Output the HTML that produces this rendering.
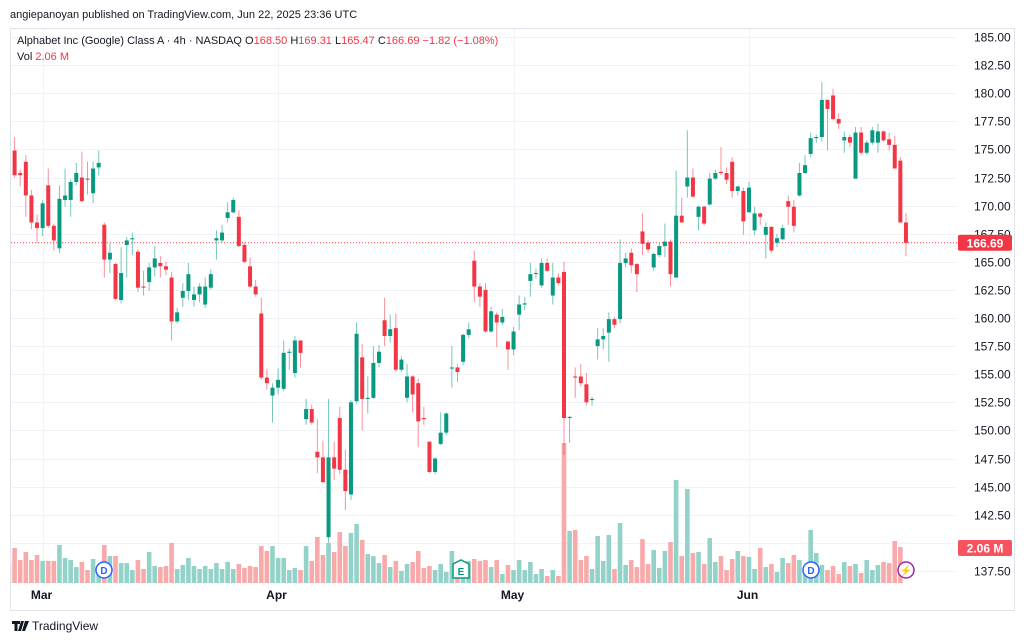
<!DOCTYPE html>
<html><head><meta charset="utf-8">
<style>
html,body{margin:0;padding:0;background:#fff;}
svg{display:block;font-family:"Liberation Sans",sans-serif;}
</style></head>
<body>
<svg id="chart" width="1024" height="642" viewBox="0 0 1024 642" xmlns="http://www.w3.org/2000/svg">
  <defs><clipPath id="plotclip"><rect x="11" y="29" width="945" height="556"/></clipPath></defs>
  <rect x="0" y="0" width="1024" height="642" fill="#ffffff"/>
  <text x="10" y="18" font-size="11" fill="#131722">angiepanoyan published on TradingView.com, Jun 22, 2025 23:36 UTC</text>
  <rect x="10.5" y="28.5" width="1004" height="582" fill="none" stroke="#e0e3eb"/>
  <g id="grid"></g>
  <g id="volumes" clip-path="url(#plotclip)"></g>
  <g id="candles" clip-path="url(#plotclip)"></g>
  <g id="yaxis"></g>
  <g id="xaxis"></g>
  <g font-size="11">
    <text x="17" y="44" fill="#131722">Alphabet Inc (Google) Class A · 4h · NASDAQ  <tspan fill="#131722">O</tspan><tspan fill="#f23645">168.50</tspan>  <tspan fill="#131722">H</tspan><tspan fill="#f23645">169.31</tspan>  <tspan fill="#131722">L</tspan><tspan fill="#f23645">165.47</tspan>  <tspan fill="#131722">C</tspan><tspan fill="#f23645">166.69</tspan>  <tspan fill="#f23645">−1.82 (−1.08%)</tspan></text>
    <text x="17" y="60" fill="#131722">Vol  <tspan fill="#f23645">2.06 M</tspan></text>
  </g>
  <g><circle cx="104" cy="570" r="8" fill="#fff" stroke="#2962ff" stroke-width="1.5"/><text x="104" y="574" font-size="10" font-weight="bold" fill="#2962ff" text-anchor="middle">D</text></g>
  <g><path d="M453 564 L461 560 L469 564 L469 578 L453 578 Z" fill="#fff" stroke="#089981" stroke-width="1.5"/><text x="461" y="575" font-size="10" font-weight="bold" fill="#089981" text-anchor="middle">E</text></g>
  <g><circle cx="811" cy="570" r="8" fill="#fff" stroke="#2962ff" stroke-width="1.5"/><text x="811" y="574" font-size="10" font-weight="bold" fill="#2962ff" text-anchor="middle">D</text></g>
  <g><circle cx="906" cy="570" r="8" fill="#fff" stroke="#9c27b0" stroke-width="1.5"/><text x="906" y="574" font-size="10" font-weight="bold" fill="#9c27b0" text-anchor="middle">⚡</text></g>
  <g>
    <path d="M12 621 h8 v3 h-2.5 v7 h-3 v-7 h-2.5 Z M21 621 h3 l-3 10 h-3 Z M25 621 h4 l-4 10 h-3 Z" fill="#131722"/>
    <text x="32" y="630" font-size="12" fill="#131722">TradingView</text>
  </g>
</svg>
<script>
var opens=[176.5,174.9,172.9,173.9,170.9,168.5,168.0,171.8,168.2,166.2,170.5,170.5,172.1,172.5,172.4,171.1,173.4,168.3,165.2,164.8,161.6,166.5,167.0,165.9,162.8,163.2,164.5,164.9,164.6,163.6,159.7,161.8,162.4,161.6,162.1,161.2,162.7,166.9,166.9,168.9,169.4,169.0,166.5,164.6,162.8,160.4,154.7,153.1,153.8,153.7,156.9,155.1,158.0,151.0,151.9,148.1,147.6,140.5,147.6,151.1,146.5,144.3,152.6,156.5,152.8,152.9,156.0,159.8,158.4,159.1,155.4,152.9,154.8,154.2,151.1,149.0,146.3,148.8,149.8,155.5,155.6,156.1,158.5,165.1,162.8,162.5,158.8,160.3,159.6,157.9,157.2,160.3,161.2,163.3,164.0,162.9,164.9,162.0,163.6,164.1,151.1,154.8,154.8,154.1,152.7,157.5,158.1,158.7,159.9,159.9,164.9,165.8,164.8,167.7,166.7,164.5,165.6,166.4,166.8,163.6,169.1,171.7,172.5,169.0,169.9,170.1,172.4,173.0,172.9,173.9,171.3,171.3,169.4,167.8,169.3,167.4,168.1,166.7,167.0,170.4,169.9,170.9,172.9,174.6,176.0,176.1,179.4,179.8,177.7,175.8,176.1,172.4,176.5,174.7,175.6,175.6,176.6,175.9,175.4,174.0,168.5];
var highs=[177.0,176.1,173.2,174.5,171.4,169.2,170.5,173.3,168.4,171.8,173.3,172.3,173.8,174.8,173.9,173.9,174.9,168.5,166.7,164.9,166.3,167.2,167.6,166.1,164.2,164.9,166.4,165.5,165.0,164.1,160.9,163.1,164.9,162.8,163.1,163.6,164.3,167.8,168.3,170.3,170.7,169.6,166.7,165.4,163.4,161.8,155.5,154.2,155.5,158.0,157.3,158.4,158.0,152.8,152.3,151.0,149.1,152.8,149.0,152.1,148.3,152.7,159.6,157.7,154.8,157.5,157.6,161.8,160.3,160.4,156.6,155.9,154.9,154.6,152.1,149.0,147.6,151.6,151.6,157.5,155.9,158.6,159.6,166.0,163.1,163.1,161.0,160.5,160.8,158.0,159.2,162.0,161.9,164.9,164.4,165.3,165.3,164.9,164.0,165.0,151.3,155.6,155.9,155.1,153.0,159.1,159.1,160.5,160.1,167.0,165.8,166.2,164.9,169.3,166.9,165.8,166.7,168.4,167.0,173.1,170.7,176.7,173.3,170.0,170.0,172.9,173.2,175.2,173.4,174.3,171.8,171.6,172.1,169.9,169.4,168.5,168.2,167.5,168.3,170.9,170.5,173.8,174.5,176.5,176.3,181.0,179.5,180.4,178.2,176.6,176.3,177.0,177.0,175.8,177.0,177.3,176.7,176.5,176.2,174.3,169.3];
var lows=[175.0,172.5,171.7,169.0,167.9,166.7,167.3,168.0,166.0,165.8,169.9,169.0,171.8,170.3,171.0,170.2,172.7,163.6,164.0,161.6,161.3,163.6,165.6,162.3,162.0,162.4,163.7,163.6,163.8,158.0,159.5,161.0,161.6,161.0,161.4,160.9,162.5,165.2,166.7,168.5,169.3,166.3,164.9,162.7,161.9,154.5,153.6,150.7,153.2,153.5,155.4,154.7,155.6,150.5,150.5,146.2,145.3,140.0,145.6,146.1,142.9,143.8,152.4,150.0,151.5,152.8,155.6,157.5,157.8,155.2,155.2,152.5,151.6,148.5,150.5,146.2,146.1,148.7,149.6,153.8,154.3,155.8,158.2,161.4,161.0,158.7,158.7,157.4,159.4,155.4,156.7,158.9,160.7,161.9,163.5,162.7,164.1,161.2,162.9,147.8,148.9,152.9,153.9,152.2,152.2,156.3,157.2,156.1,159.1,159.5,164.5,164.0,162.3,165.6,165.8,164.2,165.4,165.4,162.8,163.6,168.5,170.7,170.7,167.8,168.2,170.0,172.3,172.7,171.9,170.7,170.9,167.4,169.4,167.4,168.3,165.3,165.8,166.3,166.9,168.3,167.6,170.8,172.8,174.3,175.6,175.7,174.9,177.6,176.8,174.7,175.2,172.4,174.5,174.5,175.4,174.7,175.7,174.9,173.3,168.5,165.5];
var closes=[175.4,172.7,172.7,170.9,168.5,168.0,170.2,168.2,166.9,170.6,170.9,172.1,172.9,170.4,172.3,173.3,173.8,165.2,165.8,161.7,164.0,166.9,167.1,162.7,162.7,164.5,165.3,164.6,164.3,159.7,160.5,162.4,163.9,162.1,162.8,162.8,163.9,167.1,167.6,169.4,170.5,166.4,165.0,162.8,162.1,154.7,154.2,153.8,154.5,156.9,157.0,158.0,156.9,151.9,150.7,147.6,145.4,147.6,146.6,146.5,144.6,152.5,158.6,152.8,152.9,156.0,157.0,158.4,159.0,155.4,156.3,154.8,153.2,150.8,151.0,146.3,147.5,149.8,151.5,155.6,155.2,158.5,159.0,162.8,161.9,158.8,160.6,159.6,160.1,157.2,158.8,161.2,161.3,163.9,164.0,164.9,164.2,163.6,163.1,151.1,151.2,154.7,154.2,152.5,152.8,158.1,158.4,159.9,159.4,164.9,165.3,164.7,163.9,166.6,166.1,165.7,166.4,166.8,163.9,169.1,168.5,172.5,170.8,169.9,168.4,172.4,172.9,172.9,172.3,171.3,171.7,168.6,171.6,169.3,169.0,168.1,166.0,167.1,168.0,169.9,168.2,172.9,173.6,176.0,176.1,179.4,178.6,177.7,177.3,176.1,175.6,176.5,174.7,175.6,176.7,176.6,175.8,175.4,173.3,168.5,166.69];
var volumes=[1.14,2.0,1.31,1.77,1.31,1.6,1.26,1.26,1.26,2.17,1.43,1.31,0.91,1.2,0.74,1.37,0.86,2.17,1.54,1.54,1.14,1.14,0.74,1.31,0.8,1.77,0.97,0.91,0.97,2.29,0.8,1.03,1.43,0.97,0.8,0.97,0.8,1.14,0.8,1.2,0.8,1.09,0.86,0.97,0.91,2.11,1.83,2.11,1.43,1.43,0.74,0.86,0.74,2.11,1.26,2.63,1.6,2.29,1.77,2.91,2.11,2.86,3.37,2.46,1.66,1.54,1.14,1.6,0.91,1.26,0.69,1.09,1.2,1.83,0.86,0.97,0.74,1.09,0.63,1.83,0.74,1.14,1.26,1.37,1.26,1.31,0.91,1.31,0.51,1.03,0.74,1.31,0.74,1.2,0.51,0.8,0.4,0.74,0.4,8.0,2.97,3.03,1.31,1.54,0.8,2.69,1.26,2.74,0.8,3.43,1.03,1.31,0.91,2.51,1.09,1.89,0.86,1.83,2.34,5.89,1.54,5.37,1.71,1.77,1.09,2.57,1.2,1.54,0.74,1.37,1.83,1.54,1.49,0.8,2.0,0.91,1.09,0.63,1.43,1.14,1.6,1.31,0.74,3.03,1.71,1.03,0.74,0.97,0.51,1.2,0.97,1.09,0.57,1.31,0.74,1.03,1.2,1.14,2.4,2.06];
var priceTicks=[185,182.5,180,177.5,175,172.5,170,167.5,165,162.5,160,157.5,155,152.5,150,147.5,145,142.5,140,137.5];
var hiddenTicks=[140];
var monthLabels=["Mar","Apr","May","Jun"];
var monthIndex=[6,48,90,132];

var NS="http://www.w3.org/2000/svg";
var GREEN="#089981",RED="#f23645",VGREEN="#92d2c9",VRED="#f8a9aa";
function yP(p){return 37+(185-p)*11.24;}
function xI(i){return 9+i*5.606;}
function yV(v){return 583-v*17.5;}
function mk(tag,attrs,parent){var e=document.createElementNS(NS,tag);for(var k in attrs)e.setAttribute(k,attrs[k]);parent.appendChild(e);return e;}

var grid=document.getElementById('grid'),yax=document.getElementById('yaxis'),xax=document.getElementById('xaxis');
priceTicks.forEach(function(p){
  var y=Math.round(yP(p))+0.5;
  var l=mk('line',{x1:11,x2:956,y1:y,y2:y,stroke:'#f0f3fa'},grid);
  
  
  if(hiddenTicks.indexOf(p)>=0)return;
  var t=mk('text',{x:974,y:y+4,'font-size':12,fill:'#131722'},yax);
  t.textContent=p.toFixed(2);
  
  
});
monthLabels.forEach(function(m,k){
  var x=Math.round(xI(monthIndex[k]))+0.5;
  var l=mk('line',{x1:x,x2:x,y1:29,y2:585,stroke:'#f0f3fa'},grid);
  
  
  var t=mk('text',{x:x-2,y:599,'font-size':12,'font-weight':'bold',fill:'#131722','text-anchor':'middle'},xax);
  t.textContent=m;
  
  
});

var vg=document.getElementById('volumes');
volumes.forEach(function(v,i){
  var up=closes[i]>=opens[i];
  var x=xI(i);
  var r=mk('rect',{x:x-2.3,y:yV(v),width:4.6,height:583-yV(v),fill:up?VGREEN:VRED},vg);
  
  
});

var cg=document.getElementById('candles');
opens.forEach(function(o,i){
  var c=closes[i],up=c>=o,col=up?GREEN:RED,x=xI(i);
  var w=mk('line',{x1:x,x2:x,y1:yP(highs[i]),y2:yP(lows[i]),stroke:col,'stroke-width':1,opacity:0.55},cg);
  
  
  var top=yP(Math.max(o,c)),bot=yP(Math.min(o,c));
  var b=mk('rect',{x:x-2,y:top,width:4,height:Math.max(1,bot-top),fill:col},cg);
  
  
});

var lastP=closes[closes.length-1],ly=yP(lastP);
var pl=mk('line',{x1:11,x2:957,y1:ly,y2:ly,stroke:RED,'stroke-width':1,'stroke-dasharray':'1,2'},grid);


var lb=mk('rect',{x:958,y:ly-8,width:54,height:16,rx:2,fill:RED},yax);


var lt=mk('text',{x:985,y:ly+4.5,'font-size':12,'font-weight':'bold',fill:'#fff','text-anchor':'middle'},yax);
lt.textContent=lastP.toFixed(2);


var lastV=volumes[volumes.length-1],vy=yV(lastV)+1;
var vb=mk('rect',{x:958,y:vy-8,width:54,height:16,rx:2,fill:'#f7525f'},yax);


var vt=mk('text',{x:985,y:vy+4.5,'font-size':12,'font-weight':'bold',fill:'#fff','text-anchor':'middle'},yax);
vt.textContent=lastV.toFixed(2)+' M';


</script>
</body></html>
